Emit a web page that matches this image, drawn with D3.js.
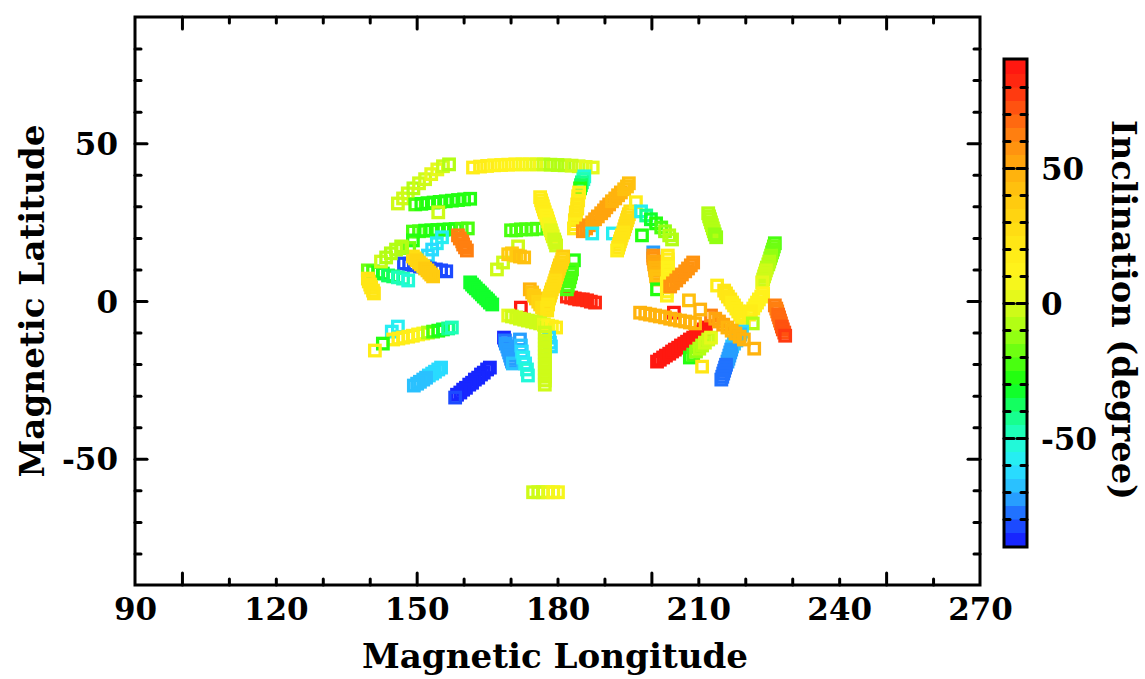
<!DOCTYPE html>
<html>
<head>
<meta charset="utf-8">
<script src="https://cdn.jsdelivr.net/npm/d3@7"></script>
<style>
  body { margin: 0; background: #fff; }
  text { font-family: "DejaVu Serif", serif; font-weight: bold; fill: #000; }
</style>
</head>
<body>
<div id="chart"></div>
<script>
// tick values
const lonLabels = [90, 120, 150, 180, 210, 240, 270];
const lonMinor = [110, 120, 130, 140, 160, 170, 180, 190, 210, 220, 230, 240, 260];
const lonMajor = [100, 150, 200, 250];
const latLabels = [-50, 0, 50];
const latMinor = [-80, -70, -60, -40, -30, -20, -10, 10, 20, 30, 40, 60, 70, 80];
const latMajor = [-50, 0, 50];
const incLabels = [-50, 0, 50];
const incMinor = [-80, -70, -60, -40, -30, -20, -10, 10, 20, 30, 40, 60, 70, 80];

// colour table for inclination
const incStops = [-90, -80, -70, -60, -50, -40, -30, -20, -10, 0, 10, 20, 30, 40, 50, 60, 70, 80, 90];
const incColors = ["#1414ff", "#1e5cff", "#2ab4ff", "#28e8ff", "#20ffcc", "#14ff7a", "#10ff10", "#5cff10",
                   "#a4ff12", "#dcfa1a", "#fff41c", "#ffea16", "#ffd812", "#ffc60e", "#ffac0c", "#ff8a10",
                   "#ff5e10", "#ff2e10", "#ff1010"];

// tracks: [magnetic longitude, magnetic latitude, inclination]
const track01 = [[162.0,42.3,16],[163.5,42.6,15],[165.0,42.8,15],[166.5,43.0,14],[168.0,43.1,13],[169.5,43.2,12],
  [171.0,43.3,10],[172.5,43.3,8],[174.0,43.3,5],[175.5,43.3,2],[177.0,43.3,-3],[178.5,43.2,-7],[180.0,43.1,-8],
  [181.5,43.0,-6],[183.0,42.9,-4],[184.5,42.7,-2],[186.0,42.5,0],[187.5,42.3,1]];
const track02 = [[146.0,30.9,-2],[147.1,32.5,-4],[148.1,34.1,-5],[149.3,35.7,-6],[150.5,37.3,-4],[151.8,38.6,-2],
  [153.1,40.2,0],[154.4,41.7,1],[155.6,42.7,-4],[156.9,43.3,-6]];
const track03 = [[149.7,30.6,-22],[151.0,30.8,-26],[152.3,31.0,-28],[153.6,31.2,-30],[154.9,31.4,-30],
  [156.2,31.6,-30],[157.5,31.8,-30],[158.8,32.0,-29],[160.1,32.2,-28],[161.4,32.4,-28]];
const track04 = [[154.6,28.1,-1]];
const track05 = [[149.2,22.0,-22],[150.5,22.1,-24],[151.8,22.3,-26],[153.1,22.4,-26],[154.4,22.5,-27],
  [155.7,22.6,-28],[157.0,22.7,-28],[158.3,22.8,-26],[159.6,22.9,-24],[160.9,23.0,-22]];
const track06 = [[149.2,19.2,-30],[148.4,16.8,-20]];
const track07 = [[158.8,20.8,60],[159.2,19.8,60],[159.7,18.9,61],[159.9,17.9,61],[160.3,17.0,60],[160.7,16.0,60]];
const track08 = [[155.4,20.2,-60],[154.3,18.3,-60],[153.3,16.3,-62],[152.4,14.4,-62]];
const track09 = [[147.3,11.9,-85],[148.4,11.6,-85],[149.4,11.3,-85],[150.7,10.9,-85],[151.8,10.6,-85],
  [152.8,10.3,-85],[154.1,10.0,-85],[155.2,9.7,-85],[156.3,9.4,-85]];
const track10 = [[149.2,14.1,28],[149.6,13.5,28],[150.0,12.9,30],[150.5,12.2,32],[150.9,11.6,33],[151.4,11.0,34],
  [151.8,10.3,35],[152.3,9.7,36],[152.7,9.0,36],[153.1,8.4,37],[153.5,7.8,38]];
const track11 = [[139.6,9.7,-18],[140.7,9.4,-24],[141.8,9.0,-30],[142.8,8.7,-32],[143.9,8.1,-36],[145.0,7.8,-40],
  [146.0,7.5,-46],[147.1,7.1,-50],[148.2,6.5,-54]];
const track12 = [[142.4,12.5,-5],[143.5,13.8,-8],[144.5,15.1,-10],[145.6,16.3,-10],[146.7,17.3,-8]];
const track13 = [[139.6,7.1,20],[139.8,6.2,20],[140.1,5.2,21],[140.3,4.3,22],[140.7,3.3,22],[140.9,2.4,22]];
const track14 = [[161.4,5.9,-35],[161.8,5.2,-35],[162.2,4.6,-34],[162.6,4.0,-34],[163.1,3.3,-33],[163.5,2.7,-33],
  [163.9,2.1,-33],[164.3,1.4,-32],[164.8,0.8,-32],[165.2,0.2,-32],[165.6,-0.5,-31],[166.1,-1.1,-31]];
const track15 = [[170.1,22.4,-22],[171.2,22.4,-22],[172.2,22.7,-22],[173.3,22.7,-22],[174.6,22.7,-22],[175.6,22.9,-22]];
const track16 = [[176.3,32.9,18],[176.5,31.9,18],[176.7,30.9,17],[176.9,30.0,17],[177.1,29.0,16],[177.3,28.1,15],
  [177.6,27.1,14],[177.8,26.2,12],[178.0,25.2,10],[178.2,24.3,8],[178.4,23.3,6],[178.6,22.4,4],[178.8,21.4,2],
  [179.0,20.5,0],[179.3,19.5,-2],[179.5,18.6,-4],[179.7,17.6,-5]];
const track17 = [[185.7,39.5,-55],[185.5,38.6,-50],[185.2,37.6,-45],[185.0,36.7,-40],[184.8,35.7,-30],
  [184.6,34.4,10],[184.4,33.2,16],[184.4,31.9,18],[184.2,30.6,20],[184.2,29.3,20],[183.9,28.1,20],
  [183.9,26.8,20],[183.7,25.6,20],[183.7,24.3,18],[183.5,23.0,18]];
const track18 = [[185.4,22.1,55],[186.1,23.0,55],[186.7,24.0,55],[187.4,24.9,54],[188.0,25.9,54],[188.6,26.8,53],
  [189.3,27.8,52],[189.9,28.7,52],[190.4,29.7,50],[191.0,30.6,50],[191.6,31.6,48],[192.3,32.5,48],
  [192.9,33.5,46],[193.5,34.4,45],[194.2,35.4,44],[194.8,36.3,43],[195.2,37.3,42]];
const track19 = [[187.4,21.4,-60],[191.8,21.4,-58]];
const track20 = [[195.5,28.4,28],[195.2,27.5,28],[195.0,26.5,27],[194.8,25.6,27],[194.6,24.6,26],[194.4,23.7,25],
  [194.2,22.7,25],[194.0,21.7,24],[193.7,20.8,23],[193.5,19.8,22],[193.3,18.9,21],[193.1,17.9,20],
  [192.9,16.9,20],[192.7,16.0,19]];
const track21 = [[196.7,31.3,15]];
const track22 = [[197.8,28.4,-60],[198.9,27.1,-45],[199.9,25.9,-35],[201.0,24.6,-30],[202.1,23.3,-25],
  [202.9,22.1,-15],[203.8,20.8,-10],[204.4,19.5,-8]];
const track23 = [[198.0,20.8,-28]];
const track24 = [[200.4,15.4,-75]];
const track25 = [[200.4,14.4,55],[200.4,13.5,55],[200.6,12.5,52],[200.6,11.6,50],[200.8,10.6,48],[200.8,9.7,46],
  [201.0,8.7,45],[201.0,7.8,44],[201.2,6.8,42]];
const track26 = [[201.2,3.7,-30]];
const track27 = [[203.5,14.4,16],[203.5,13.2,15],[203.5,11.9,15],[203.5,10.6,14],[203.5,9.4,14],[203.5,8.1,13],
  [203.5,6.8,13],[203.3,5.6,12],[203.3,4.3,12],[203.3,3.0,12],[203.3,1.7,11]];
const track28 = [[204.0,4.6,58],[204.6,5.6,58],[205.3,6.5,57],[205.9,7.5,57],[206.5,8.4,56],[207.2,9.4,56],
  [207.8,10.3,55],[208.4,11.3,55],[208.9,12.2,55]];
const track29 = [[212.1,27.8,-8],[212.3,26.8,-8],[212.5,25.9,-9],[212.7,24.9,-9],[212.9,24.0,-10],[213.1,23.0,-10],
  [213.3,22.1,-10],[213.5,21.1,-11],[213.8,20.2,-11]];
const track30 = [[214.0,4.9,15]];
const track31 = [[215.5,3.3,20],[215.9,2.4,20],[216.3,1.4,20],[216.8,0.5,20],[217.2,-0.5,19],[217.6,-1.4,19],
  [218.1,-2.4,18],[218.5,-3.3,18],[218.9,-4.3,18],[219.3,-5.2,17],[219.7,-6.2,17]];
const track32 = [[226.3,18.3,-22],[226.1,17.3,-20],[225.9,16.3,-18],[225.7,15.4,-16],[225.5,14.4,-14],
  [225.3,13.5,-12],[225.1,12.5,-10],[224.9,11.6,-8],[224.6,10.6,-6],[224.4,9.7,-4],[224.2,8.7,-3],
  [224.0,7.8,-2],[223.8,6.8,-1],[223.6,5.9,0]];
const track33 = [[223.8,2.4,12],[223.4,1.4,12],[222.9,0.5,13],[222.5,-0.5,13],[222.1,-1.4,14],[221.7,-2.4,14],
  [221.2,-3.3,15],[220.8,-4.3,15]];
const track34 = [[221.6,-7.1,-8]];
const track35 = [[226.3,-1.4,60],[226.6,-2.4,62],[226.8,-3.3,64],[227.0,-4.3,65],[227.2,-5.2,66],[227.4,-6.2,67],
  [227.6,-7.1,68],[227.8,-8.1,70],[228.0,-9.0,72],[228.3,-10.0,74],[228.5,-11.0,76]];
const track36 = [[204.8,-3.7,85]];
const track37 = [[201.2,-19.2,85],[201.8,-18.6,85],[202.5,-17.9,85],[203.1,-17.3,85],[203.8,-16.7,85],
  [204.4,-16.0,85],[205.0,-15.4,85],[205.7,-14.8,85],[206.3,-14.1,85],[207.0,-13.5,85],[207.6,-12.9,85],
  [208.2,-12.2,85],[208.9,-11.6,85],[209.5,-11.0,85],[210.2,-10.3,85],[210.8,-9.7,85],[211.2,-9.0,85],
  [211.6,-8.4,85]];
const track38 = [[197.6,-3.7,48],[198.7,-4.0,48],[199.7,-4.3,48],[200.8,-4.6,48],[201.8,-4.9,48],[202.9,-5.2,47],
  [204.0,-5.6,47],[205.0,-5.9,47],[206.1,-6.2,47],[207.2,-6.5,46],[208.2,-6.8,46],[209.3,-7.1,46]];
const track39 = [[208.2,-17.9,-30],[208.9,-17.0,-22],[209.5,-16.0,-15],[210.2,-15.1,-10],[210.8,-14.1,-6],
  [211.4,-13.2,-4],[212.1,-12.2,-2],[212.7,-11.6,0]];
const track40 = [[210.8,-20.8,20]];
const track41 = [[219.3,-9.7,-62],[218.9,-10.6,-66],[218.5,-11.6,-67],[218.1,-12.5,-68],[217.6,-13.5,-69],
  [217.2,-14.4,-70],[217.0,-15.4,-71],[216.8,-16.3,-72],[216.6,-17.3,-73],[216.4,-18.3,-74],[216.2,-19.2,-75],
  [215.9,-20.2,-76],[215.7,-21.1,-77],[215.5,-22.1,-77],[215.3,-23.0,-78],[215.1,-24.0,-78],[214.9,-24.9,-78]];
const track42 = [[212.7,-4.6,62],[213.6,-5.6,52],[214.4,-6.5,50],[215.3,-7.5,50],[216.2,-8.4,49],[217.1,-9.4,48],
  [217.9,-10.3,48],[218.8,-11.3,47],[219.7,-12.2,47]];
const track43 = [[208.0,0.2,40],[210.4,-2.7,45]];
const track44 = [[221.9,-15.1,48]];
const track45 = [[182.0,1.4,82],[182.9,1.1,82],[183.7,0.8,82],[184.6,0.5,82],[185.4,0.5,82],[186.3,0.2,82],
  [187.1,-0.2,82],[188.0,-0.5,82]];
const track46 = [[172.2,-2.1,85]];
const track47 = [[174.1,3.7,45],[174.6,2.7,42],[175.0,1.7,38],[175.4,0.8,35],[175.9,-0.2,32],[176.3,-1.1,30],
  [176.7,-2.1,28],[177.1,-3.0,26]];
const track48 = [[183.5,12.9,-28],[183.1,10.0,-25],[182.9,8.7,-25],[182.7,7.5,-24],[182.5,6.2,-24],[182.2,4.9,-23],
  [182.0,3.7,-22]];
const track49 = [[181.2,14.1,35],[181.0,13.2,34],[180.8,12.2,33],[180.5,11.3,32],[180.3,10.3,32],[180.1,9.4,31],
  [179.9,8.4,30],[179.7,7.5,30],[179.5,6.5,29],[179.3,5.6,28],[179.1,4.6,28],[178.8,3.7,27],[178.6,2.7,26],
  [178.4,1.7,26],[178.2,0.8,25],[178.0,-0.2,25],[178.0,-1.1,24],[177.8,-2.1,24],[177.8,-3.0,23]];
const track50 = [[169.5,-4.6,0],[170.3,-4.9,-2],[171.2,-5.2,-3],[172.0,-5.6,-4],[172.9,-5.9,-5],[173.7,-6.2,-5],
  [174.6,-6.5,-5],[175.4,-6.8,-4],[176.3,-7.1,-3],[177.1,-7.5,0],[178.0,-7.8,5],[178.8,-8.1,12],[179.7,-8.4,18]];
const track51 = [[178.2,-11.6,-62],[178.4,-13.2,-63],[178.6,-14.4,-64]];
const track52 = [[168.6,-11.6,-86],[168.8,-12.5,-76],[169.0,-13.5,-75],[169.3,-14.4,-74],[169.5,-15.4,-73],
  [169.7,-16.3,-72],[169.9,-17.3,-72],[170.1,-18.3,-71],[170.3,-19.2,-71],[170.5,-19.8,-70]];
const track53 = [[172.0,-12.2,-72],[172.2,-14.1,-68],[172.4,-16.0,-64],[172.7,-17.9,-60],[173.1,-19.8,-57],
  [173.5,-21.7,-55],[173.7,-23.6,-55]];
const track54 = [[177.3,-10.0,-3],[177.3,-11.3,-3],[177.3,-12.5,-3],[177.3,-13.8,-3],[177.3,-15.1,-3],
  [177.3,-16.3,-3],[177.3,-17.6,-3],[177.3,-18.9,-3],[177.3,-20.2,-3],[177.3,-21.4,-3],[177.3,-22.7,-3],
  [177.3,-24.0,-3],[177.3,-25.2,-3],[177.3,-26.5,-3]];
const track55 = [[165.6,-21.1,-86],[165.0,-21.7,-86],[164.3,-22.7,-86],[163.7,-23.3,-86],[163.1,-24.3,-86],
  [162.4,-24.9,-86],[161.8,-25.9,-86],[161.2,-26.5,-86],[160.5,-27.5,-86],[159.9,-28.1,-86],[159.3,-29.0,-86],
  [158.6,-29.7,-86],[158.2,-30.6,-82]];
const track56 = [[155.2,-21.1,-64],[154.6,-21.7,-64],[153.9,-22.4,-65],[153.3,-23.0,-65],[152.6,-23.6,-65],
  [152.0,-24.3,-66],[151.4,-24.9,-66],[150.7,-25.6,-66],[150.1,-26.2,-67],[149.4,-26.8,-67]];
const track57 = [[144.7,-9.7,-58],[146.0,-8.1,-60]];
const track58 = [[145.0,-12.2,18],[146.1,-11.9,18],[147.1,-11.6,18],[148.2,-11.3,17],[149.2,-11.0,16],
  [150.3,-10.6,14],[151.4,-10.3,8],[152.4,-10.0,-10],[153.5,-9.7,-25],[154.6,-9.4,-30],[155.6,-9.0,-35],
  [156.7,-8.7,-45],[157.5,-8.4,-50]];
const track59 = [[142.8,-13.5,-30]];
const track60 = [[141.1,-15.7,18]];
const track61 = [[174.8,-60.6,-1],[175.9,-60.6,-3],[176.9,-60.6,-2],[178.0,-60.6,2],[179.1,-60.6,5],[180.1,-60.6,6]];
const track62 = [[167.1,10.0,-3],[168.4,12.2,-2],[171.6,17.3,-5]];
const track63 = [[169.5,14.8,38],[170.3,15.1,38],[171.2,14.4,38],[172.0,14.1,40],[172.9,13.8,40]];
const track64 = [[146.9,17.0,-6]];

const tracks = [track01, track02, track03, track04, track05, track06, track07, track08, track09, track10,
  track11, track12, track13, track14, track15, track16, track17, track18, track19, track20, track21, track22,
  track23, track24, track25, track26, track27, track28, track29, track30, track31, track32, track33, track34,
  track35, track36, track37, track38, track39, track40, track41, track42, track43, track44, track45, track46,
  track47, track48, track49, track50, track51, track52, track53, track54, track55, track56, track57, track58,
  track59, track60, track61, track62, track63, track64];

const width = 1145;
const height = 679;

const svg = d3.select("#chart")
  .append("svg")
  .attr("width", width)
  .attr("height", height)
  .style("display", "block");

svg.append("rect").attr("width", width).attr("height", height).attr("fill", "#fff");

// scales
const x = d3.scaleLinear().domain([90, 270]).range([135, 980]);
const y = d3.scaleLinear().domain([-90, 90]).range([585, 17]);
const cb = d3.scaleLinear().domain([-90, 90]).range([546, 60]);

const colorInterp = d3.scaleLinear().domain(incStops).range(incColors).interpolate(d3.interpolateRgb);
const color = v => colorInterp(Math.max(-87.5, Math.min(87.5, Math.floor(v / 5) * 5 + 2.5)));

// plain hyphen for negative labels, as in the original figure
const fmt = d => String(d);

// clip for the markers
svg.append("clipPath").attr("id", "plot-clip")
  .append("rect")
  .attr("x", x(90)).attr("y", y(90))
  .attr("width", x(270) - x(90)).attr("height", y(-90) - y(90));

// markers: hollow squares
const size = 10.5;
svg.append("g")
  .attr("clip-path", "url(#plot-clip)")
  .selectAll("g")
  .data(tracks)
  .join("g")
  .selectAll("rect")
  .data(d => d)
  .join("rect")
  .attr("x", d => x(d[0]) - size / 2)
  .attr("y", d => y(d[1]) - size / 2)
  .attr("width", size)
  .attr("height", size)
  .attr("fill", "none")
  .attr("stroke", d => color(d[2]))
  .attr("stroke-width", 3.3);

// axis ticks (inward)
function styleTicks(g) {
  g.select(".domain").remove();
  g.selectAll("line").attr("stroke", "#000").attr("stroke-width", 3).attr("stroke-linecap", "round");
  g.selectAll("text").remove();
}

const tickSets = [
  [d3.axisBottom(x), `translate(0,${y(-90)})`, lonMinor, 6],
  [d3.axisBottom(x), `translate(0,${y(-90)})`, lonMajor, 12],
  [d3.axisTop(x), `translate(0,${y(90)})`, lonMinor, 6],
  [d3.axisTop(x), `translate(0,${y(90)})`, lonMajor, 12],
  [d3.axisLeft(y), `translate(${x(90)},0)`, latMinor, 6],
  [d3.axisLeft(y), `translate(${x(90)},0)`, latMajor, 12],
  [d3.axisRight(y), `translate(${x(270)},0)`, latMinor, 6],
  [d3.axisRight(y), `translate(${x(270)},0)`, latMajor, 12]
];
tickSets.forEach(([axis, tr, vals, len]) => {
  svg.append("g").attr("transform", tr)
    .call(axis.tickValues(vals).tickSize(-len))
    .call(styleTicks);
});

// frame
svg.append("rect")
  .attr("x", x(90)).attr("y", y(90))
  .attr("width", x(270) - x(90)).attr("height", y(-90) - y(90))
  .attr("fill", "none").attr("stroke", "#000").attr("stroke-width", 3);

// tick labels
svg.append("g")
  .attr("transform", `translate(0,${y(-90)})`)
  .call(d3.axisBottom(x).tickValues(lonLabels).tickFormat(fmt).tickSize(0).tickPadding(0))
  .call(g => g.select(".domain").remove())
  .selectAll("text")
  .attr("y", 35)
  .attr("dy", null)
  .style("font-family", "DejaVu Serif").style("font-weight", "bold").style("font-size", "31px");

svg.append("g")
  .attr("transform", `translate(${x(90)},0)`)
  .call(d3.axisLeft(y).tickValues(latLabels).tickFormat(fmt).tickSize(0).tickPadding(17))
  .call(g => g.select(".domain").remove())
  .selectAll("text")
  .attr("dy", "0.36em")
  .style("font-family", "DejaVu Serif").style("font-weight", "bold").style("font-size", "31px");

// axis titles
svg.append("text")
  .attr("x", 555).attr("y", 668)
  .attr("text-anchor", "middle")
  .attr("textLength", 386).attr("lengthAdjust", "spacingAndGlyphs")
  .style("font-size", "33px")
  .text("Magnetic Longitude");

svg.append("text")
  .attr("transform", "translate(44,301) rotate(-90)")
  .attr("text-anchor", "middle")
  .attr("textLength", 353).attr("lengthAdjust", "spacingAndGlyphs")
  .style("font-size", "33px")
  .text("Magnetic Latitude");

// colour bar
const bands = d3.range(-90, 90, 5);
svg.append("g")
  .selectAll("rect")
  .data(bands)
  .join("rect")
  .attr("x", 1004)
  .attr("y", d => cb(d + 5))
  .attr("width", 23)
  .attr("height", d => cb(d) - cb(d + 5) + 0.5)
  .attr("fill", d => color(d + 2.5));

const cbSets = [
  [d3.axisLeft(cb), `translate(1004,0)`, incMinor, 6],
  [d3.axisLeft(cb), `translate(1004,0)`, incLabels, 10],
  [d3.axisRight(cb), `translate(1027,0)`, incMinor, 6],
  [d3.axisRight(cb), `translate(1027,0)`, incLabels, 10]
];
cbSets.forEach(([axis, tr, vals, len]) => {
  svg.append("g").attr("transform", tr)
    .call(axis.tickValues(vals).tickSize(-len))
    .call(styleTicks);
});

svg.append("rect")
  .attr("x", 1004).attr("y", 59)
  .attr("width", 23).attr("height", 488)
  .attr("fill", "none").attr("stroke", "#000").attr("stroke-width", 3);

svg.append("g")
  .attr("transform", "translate(1027,0)")
  .call(d3.axisRight(cb).tickValues(incLabels).tickFormat(fmt).tickSize(0).tickPadding(14))
  .call(g => g.select(".domain").remove())
  .selectAll("text")
  .attr("dy", "0.36em")
  .style("font-family", "DejaVu Serif").style("font-weight", "bold").style("font-size", "31px");

svg.append("text")
  .attr("transform", "translate(1112,310) rotate(90)")
  .attr("text-anchor", "middle")
  .attr("textLength", 380).attr("lengthAdjust", "spacingAndGlyphs")
  .style("font-size", "33px")
  .text("Inclination (degree)");
</script>
</body>
</html>
